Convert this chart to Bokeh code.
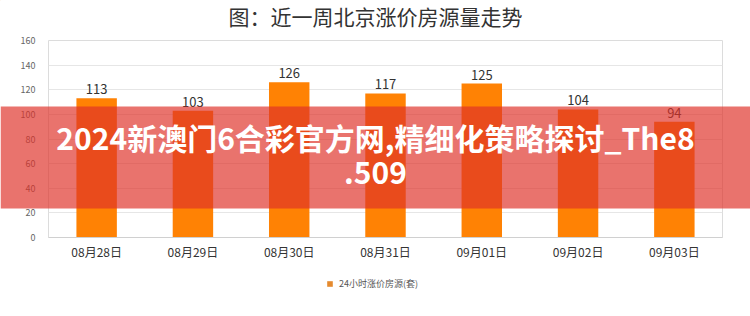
from bokeh.plotting import figure
from bokeh.models import (FactorRange, Range1d, SingleIntervalTicker, Legend, LegendItem,
                          ColumnDataSource)
from bokeh.core.properties import value
from bokeh.embed import file_html
from bokeh.resources import INLINE

title_text = "图：近一周北京涨价房源量走势"
categories = ["08月28日", "08月29日", "08月30日", "08月31日", "09月01日", "09月02日", "09月03日"]
counts = [113, 103, 126, 117, 125, 104, 94]
series_name = "24小时涨价房源(套)"
overlay_lines = ["2024新澳门6合彩官方网,精细化策略探讨_The8", ".509"]

FONT = "Noto Sans CJK SC"
W, H = 750, 316

# ---------------- main chart ----------------
p = figure(width=W, height=H, x_range=FactorRange(*categories, range_padding=0),
           y_range=Range1d(0, 160), output_backend="svg", toolbar_location=None,
           min_border_left=48, min_border_right=28, min_border_top=40, min_border_bottom=79)
p.background_fill_color = "white"
p.border_fill_color = "white"
p.outline_line_color = "#dcdcdc"

src = ColumnDataSource(dict(cat=categories, val=counts, lab=[str(v) for v in counts]))
bars = p.vbar(x="cat", top="val", width=0.42, source=src, fill_color="#FF8204", line_color=None)
p.text(x="cat", y="val", text="lab", source=src, y_offset=-4, text_align="center",
       text_baseline="bottom", text_font=value(FONT), text_font_size="13px", text_color="#333333")

yax = p.yaxis[0]
yax.ticker = SingleIntervalTicker(interval=20)
yax.axis_line_color = None
yax.major_tick_line_color = None
yax.minor_tick_line_color = None
yax.major_tick_in = 0
yax.major_tick_out = 0
yax.major_label_text_font = FONT
yax.major_label_text_font_size = "9px"
yax.major_label_text_color = "#666666"
yax.major_label_standoff = 9

xax = p.xaxis[0]
xax.axis_line_color = "#d0d0d0"
xax.major_tick_line_color = None
xax.minor_tick_line_color = None
xax.major_tick_in = 0
xax.major_tick_out = 0
xax.major_label_text_font = FONT
xax.major_label_text_font_size = "12px"
xax.major_label_text_color = "#333333"
xax.major_label_standoff = 5

p.xgrid.grid_line_color = None
p.ygrid.grid_line_color = "#e6e6e6"
p.ygrid.ticker = SingleIntervalTicker(interval=20)

# ---------------- overlay layer (title, band, caption, legend) ----------------
o = figure(width=W, height=H, x_range=Range1d(0, W), y_range=Range1d(H, 0),
           x_axis_type=None, y_axis_type=None, output_backend="svg", toolbar_location=None,
           min_border=0, styles={"position": "absolute", "left": "0px", "top": "0px"})
o.background_fill_color = None
o.border_fill_color = None
o.outline_line_color = None
o.grid.visible = False

o.text(x=[W / 2], y=[15], text=[title_text], text_align="center", text_baseline="middle",
       text_font=value(FONT), text_font_size="21px", text_color="#333333")

o.quad(left=[0], right=[W], top=[106], bottom=[208], fill_color="rgb(222,48,40)",
       fill_alpha=0.68, line_color=None)
o.text(x=[W / 2, W / 2], y=[136, 172], text=overlay_lines, text_align="center",
       text_baseline="middle", text_font=value(FONT), text_font_size="30px",
       text_font_style="bold", text_color="white")

# legend swatch renderer kept off-canvas; only its legend entry is visible
leg_r = o.vbar(x=[-1000], top=[-1000], bottom=[-1001], width=1, fill_color="#E58A2E",
               line_color=None)
leg = Legend(items=[LegendItem(label=series_name, renderers=[leg_r])], orientation="horizontal",
             location=(326, 26), padding=0, margin=0, spacing=0, glyph_width=7, glyph_height=7,
             label_height=10, label_standoff=6, border_line_color=None, background_fill_alpha=0,
             label_text_font=FONT, label_text_font_size="9px", label_text_color="#555555")
o.add_layout(leg)

open("out.html", "w").write(file_html([p, o], INLINE))
